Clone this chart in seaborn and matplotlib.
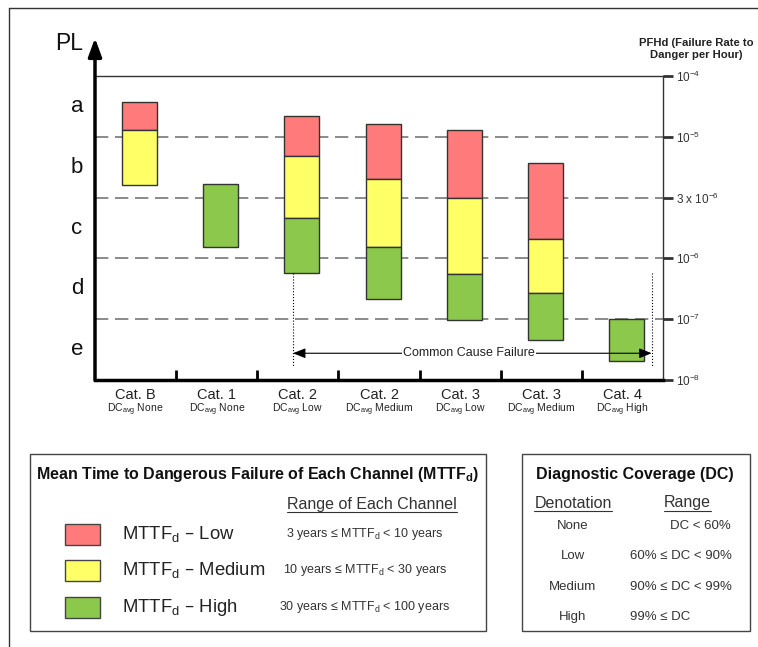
import numpy as np
import pandas as pd
import matplotlib.pyplot as plt
import seaborn as sns
from matplotlib.patches import Rectangle
from matplotlib.lines import Line2D
from matplotlib.transforms import IdentityTransform

sns.set_theme(style="white")
plt.rcParams['font.family'] = ['Liberation Sans', 'DejaVu Sans']
plt.rcParams['mathtext.default'] = 'regular'

# categories along the x axis
cat_keys = ["B", "1", "2L", "2M", "3L", "3M", "4H"]
cat_names = ["Cat. B", "Cat. 1", "Cat. 2", "Cat. 2", "Cat. 3", "Cat. 3", "Cat. 4"]
dc_levels = ["None", "None", "Low", "Medium", "Low", "Medium", "High"]

# bar segments on the PL scale (0 = 10^-8, 1 = 10^-7, 2 = 10^-6, 3 = 3x10^-6, 4 = 10^-5, 5 = 10^-4)
low_top = [4.57, np.nan, 4.34, 4.21, 4.11, 3.57, np.nan]
low_bot = [4.11, np.nan, 3.68, 3.31, 2.99, 2.32, np.nan]
med_top = [4.11, np.nan, 3.68, 3.31, 2.99, 2.32, np.nan]
med_bot = [3.21, np.nan, 2.66, 2.19, 1.74, 1.43, np.nan]
high_top = [np.nan, 3.22, 2.66, 2.19, 1.74, 1.43, 1.00]
high_bot = [np.nan, 2.19, 1.76, 1.33, 0.99, 0.66, 0.31]

pl_letters = ["e", "d", "c", "b", "a"]
pfhd_labels = [r"10$^{-8}$", r"10$^{-7}$", r"10$^{-6}$", r"3 x 10$^{-6}$", r"10$^{-5}$", r"10$^{-4}$"]

mttf_names = [r"MTTF$_d$ – Low", r"MTTF$_d$ – Medium", r"MTTF$_d$ – High"]
mttf_ranges = [r"3 years ≤ MTTF$_d$ < 10 years", r"10 years ≤ MTTF$_d$ < 30 years",
               r"30 years ≤ MTTF$_d$ < 100 years"]
dc_names = ["None", "Low", "Medium", "High"]
dc_ranges = ["DC < 60%", "60% ≤ DC < 90%", "90% ≤ DC < 99%", "99% ≤ DC"]

colors = ["#ff7b7b", "#ffff66", "#8cc84b"]
W, H = 758, 647


def fx(px):
    return px / W


def fy(py):
    return 1 - py / H


fig = plt.figure(figsize=(7.58, 6.47), dpi=100)
fig.patch.set_facecolor("white")
ax = fig.add_axes([fx(95), fy(380), 568 / W, 304 / H])
ax.set_facecolor("white")

# stacked floating bars
for top, bot, col in zip([low_top, med_top, high_top], [low_bot, med_bot, high_bot], colors):
    df = pd.DataFrame({"cat": cat_keys, "top": top, "bot": bot}).dropna()
    df["height"] = df["top"] - df["bot"]
    sns.barplot(data=df, x="cat", y="height", order=cat_keys, bottom=df["bot"].to_numpy(),
                width=0.43, color=col, saturation=1, edgecolor="#333333", linewidth=1,
                errorbar=None, ax=ax, zorder=3)

ax.set_xlim(-0.55, 6.45)
ax.set_ylim(0, 5)
ax.set_xlabel("")
ax.set_ylabel("")

for v in [1, 2, 3, 4]:
    ax.axhline(v, color="#777777", lw=1.2, ls=(0, (8, 4)), zorder=1)

ax.spines["left"].set_visible(False)
ax.spines["bottom"].set_linewidth(2.5)
ax.spines["bottom"].set_color("black")
for s in ["top", "right"]:
    ax.spines[s].set_linewidth(1)
    ax.spines[s].set_color("#333333")

ax.set_xticks([i + 0.45 for i in range(6)])
ax.set_xticklabels([])
ax.tick_params(axis="x", bottom=True, direction="in", length=7, width=2, color="black")

ax.yaxis.tick_right()
ax.set_yticks(range(6))
ax.set_yticklabels(pfhd_labels)
ax.tick_params(axis="y", right=True, left=False, direction="out", length=7, width=2,
               color="#333333", labelsize=8.5, labelcolor="#333333", pad=2)

# PL axis with arrow
ax.annotate("", xy=(0, 1.125), xytext=(0, 0), xycoords="axes fraction",
            arrowprops=dict(arrowstyle="-|>,head_length=0.55,head_width=0.2", lw=2.5,
                            color="black", mutation_scale=20, shrinkA=0, shrinkB=0),
            annotation_clip=False)
fig.text(fx(69), fy(44), "PL", ha="center", va="center", fontsize=16.5, color="#111111")
for i, l in enumerate(pl_letters):
    ax.text(-0.032, i + 0.5, l, transform=ax.get_yaxis_transform(), ha="center",
            va="center", fontsize=16, color="#111111")

for i in range(len(cat_keys)):
    ax.text(i - 0.05, -0.05, cat_names[i], transform=ax.get_xaxis_transform(),
            ha="center", va="center", fontsize=10.5, color="#222222")
    ax.text(i - 0.05, -0.099, r"DC$_{avg}$ " + dc_levels[i], transform=ax.get_xaxis_transform(),
            ha="center", va="center", fontsize=7.5, color="#222222")

fig.text(fx(696), fy(49), "PFHd (Failure Rate to\nDanger per Hour)", ha="center", va="center",
         fontsize=8.1, fontweight="bold", color="#222222", linespacing=1.25)

# common cause failure arrow
x_left, x_right, y_arr = 1.89, 6.31, 0.44
for xv in [x_left, x_right]:
    ax.plot([xv, xv], [high_bot[2], 0.23], ls=":", lw=0.8, color="black", zorder=4)
ax.annotate("", xy=(x_right, y_arr), xytext=(x_left, y_arr),
            arrowprops=dict(arrowstyle="<|-|>,head_length=0.5,head_width=0.2", lw=0.8,
                            color="black", mutation_scale=15, shrinkA=0, shrinkB=0),
            zorder=5)
ax.text(4.06, y_arr, "Common Cause Failure", ha="center", va="center", fontsize=9,
        color="#222222", bbox=dict(fc="white", ec="none", pad=0.5), zorder=6)

# outer frame
fig.add_artist(Line2D([fx(9), 1], [fy(8), fy(8)], transform=fig.transFigure, color="#333333", lw=1))
fig.add_artist(Line2D([fx(9), fx(9)], [fy(8), 0], transform=fig.transFigure, color="#333333", lw=1))


def box(x0, y0, x1, y1):
    fig.add_artist(Rectangle((fx(x0), fy(y1)), fx(x1) - fx(x0), fy(y0) - fy(y1),
                             transform=fig.transFigure, fill=False, ec="#444444", lw=1))


underlined = []

# MTTFd legend
box(30, 454, 486, 631)
fig.text(fx(258), fy(474), r"Mean Time to Dangerous Failure of Each Channel (MTTF$_d$)",
         ha="center", va="center", fontsize=11.5, fontweight="bold", color="#111111")
underlined.append((fig.text(fx(372), fy(505), "Range of Each Channel", ha="center", va="center",
                            fontsize=11.5, color="#333333"), 512))
for k in range(3):
    yc = 534 + k * 36.5
    fig.add_artist(Rectangle((fx(65), fy(yc + 10.5)), fx(100) - fx(65), fy(yc - 10.5) - fy(yc + 10.5),
                             transform=fig.transFigure, fc=colors[k], ec="#444444", lw=1))
    fig.text(fx(122), fy(yc), mttf_names[k], ha="left", va="center", fontsize=13.3, color="#222222")
    fig.text(fx(365), fy(yc), mttf_ranges[k], ha="center", va="center", fontsize=9, color="#333333")

# DC legend
box(522, 454, 750, 631)
fig.text(fx(635), fy(475), "Diagnostic Coverage (DC)", ha="center", va="center",
         fontsize=11.5, fontweight="bold", color="#111111")
underlined.append((fig.text(fx(573), fy(503), "Denotation", ha="center", va="center",
                            fontsize=11.5, color="#333333"), 511))
underlined.append((fig.text(fx(687), fy(503), "Range", ha="center", va="center",
                            fontsize=11.5, color="#333333"), 511))
for k in range(4):
    yc = 526 + k * 30.3
    fig.text(fx(573), fy(yc), dc_names[k], ha="center", va="center", fontsize=9.5, color="#333333")
    if k == 0:
        fig.text(fx(731), fy(yc), dc_ranges[k], ha="right", va="center", fontsize=9.5, color="#333333")
    else:
        fig.text(fx(630), fy(yc), dc_ranges[k], ha="left", va="center", fontsize=9.5, color="#333333")

fig.canvas.draw()
for t, py in underlined:
    bb = t.get_window_extent()
    ypix = (1 - py / H) * fig.bbox.height
    fig.add_artist(Line2D([bb.x0, bb.x1], [ypix, ypix], transform=IdentityTransform(),
                          color="#333333", lw=0.8))

fig.savefig("out.png", dpi=100)
